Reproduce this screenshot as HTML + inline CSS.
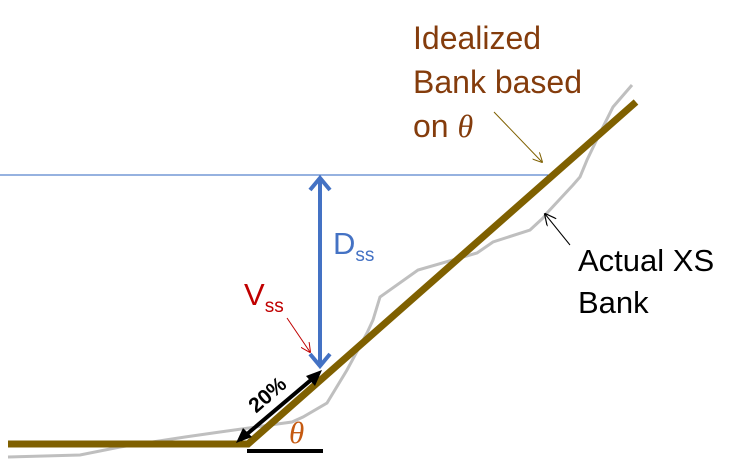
<!DOCTYPE html>
<html><head><style>body{margin:0;background:#fff}svg{display:block}</style></head><body>
<svg width="751" height="463" viewBox="0 0 751 463" xmlns="http://www.w3.org/2000/svg" font-family="Liberation Sans, sans-serif">
<defs>
<marker id="ab" markerWidth="10" markerHeight="10" refX="9" refY="5" orient="auto" markerUnits="userSpaceOnUse"><path d="M0,0 L10,5 L0,10" fill="none" stroke="#7f6000" stroke-width="1"/></marker>
<marker id="ak" markerWidth="12" markerHeight="12" refX="11" refY="6" orient="auto" markerUnits="userSpaceOnUse"><path d="M0,0 L12,6 L0,12" fill="none" stroke="#000" stroke-width="1.2"/></marker>
<marker id="ar" markerWidth="10" markerHeight="10" refX="9" refY="5" orient="auto" markerUnits="userSpaceOnUse"><path d="M0,0 L10,5 L0,10" fill="none" stroke="#c00000" stroke-width="1"/></marker>
</defs>
<line x1="0" y1="175" x2="552" y2="175" stroke="#2e64c0" stroke-width="1"/>
<polyline points="8,457 80,455 120,447 185,437 220,432 270,425 292,422 303,417 327,403 347,370 367,333 373,320 380,297 418,270 477,253 493,242 530,230 543,218 547,213 573,185 580,177 587,160 600,133 613,107 632,85" fill="none" stroke="#bfbfbf" stroke-width="3"/>
<polyline points="8,444 248,444 636,102" fill="none" stroke="#7f6000" stroke-width="7"/>
<line x1="320" y1="180" x2="320" y2="366" stroke="#4472c4" stroke-width="4"/>
<path d="M310,190 L320,178 L330,190" fill="none" stroke="#4472c4" stroke-width="4"/>
<path d="M310,354 L320,366 L330,354" fill="none" stroke="#4472c4" stroke-width="4"/>
<line x1="240" y1="440" x2="318" y2="374" stroke="#000" stroke-width="4"/>
<path d="M236,443 L252,437 L243,428 Z" fill="#000"/>
<path d="M322,370 L315,386 L306,376 Z" fill="#000"/>
<line x1="247" y1="451" x2="323" y2="451" stroke="#000" stroke-width="4"/>
<text transform="translate(272,400) rotate(-41)" text-anchor="middle" font-size="21" font-weight="bold" fill="#000">20%</text>
<text x="289" y="443" font-size="31" font-style="italic" font-family="Liberation Serif, serif" fill="#c55a11">θ</text>
<text x="244" y="305" font-size="31" fill="#c00000">V<tspan font-size="19" dy="7">ss</tspan></text>
<line x1="287" y1="318" x2="310" y2="352" stroke="#c00000" stroke-width="1" marker-end="url(#ar)"/>
<text x="333" y="254" font-size="31" fill="#4472c4">D<tspan font-size="19" dy="7">ss</tspan></text>
<g font-size="32" fill="#843c0c">
<text x="413" y="49">Idealized</text>
<text x="413" y="93">Bank based</text>
<text x="413" y="137">on <tspan font-style="italic" font-family="Liberation Serif, serif">θ</tspan></text>
</g>
<line x1="494" y1="112" x2="542" y2="162" stroke="#7f6000" stroke-width="1" marker-end="url(#ab)"/>
<g font-size="31" fill="#000">
<text x="578" y="271">Actual XS</text>
<text x="578" y="313">Bank</text>
</g>
<line x1="570" y1="245" x2="545" y2="214" stroke="#000" stroke-width="1" marker-end="url(#ak)"/>
</svg>
</body></html>
